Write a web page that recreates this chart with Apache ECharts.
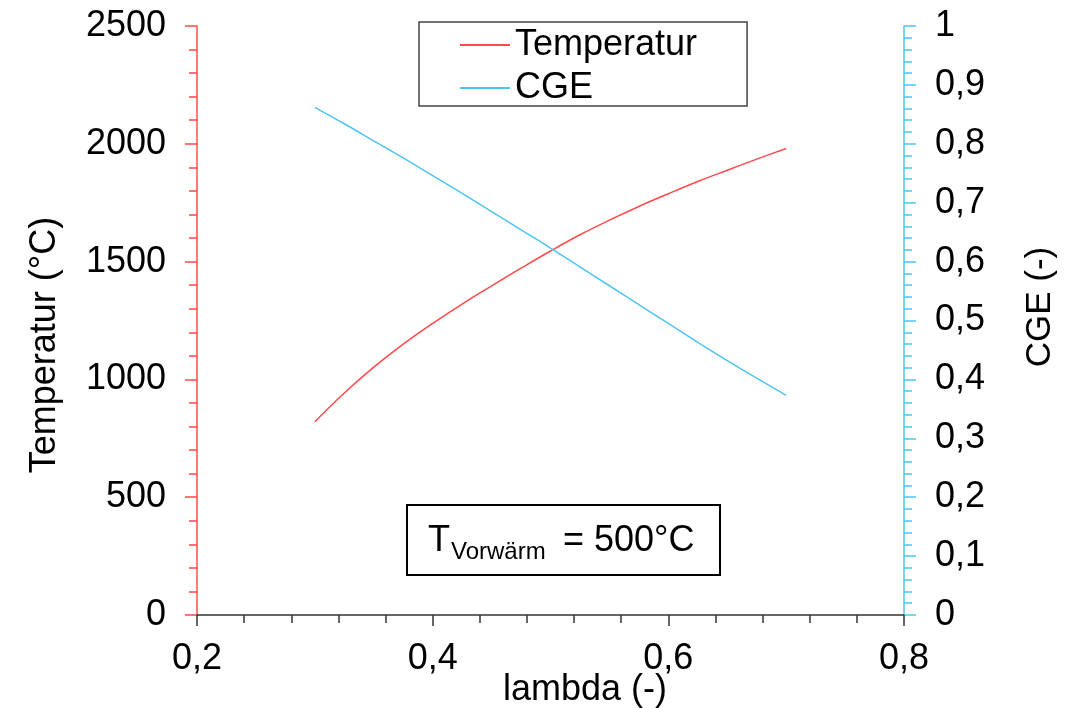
<!DOCTYPE html>
<html>
<head>
<meta charset="utf-8">
<script src="https://cdn.jsdelivr.net/npm/echarts@6/dist/echarts.min.js"></script>
<style>
html,body{margin:0;padding:0;background:#fff;}
#chart{width:1071px;height:708px;}
</style>
</head>
<body>
<div id="chart"></div>
<script>
// ---- data ----
const lambdaValues = [0.300,0.325,0.350,0.375,0.400,0.425,0.450,0.475,0.500,0.525,0.550,0.575,0.600,0.625,0.650,0.675,0.700];
const temperatur   = [820, 942, 1052, 1150, 1238, 1320, 1397, 1472, 1545, 1614, 1676, 1734, 1788, 1840, 1888, 1935, 1980];
const cge          = [0.862,0.834,0.805,0.776,0.746,0.716,0.685,0.654,0.623,0.591,0.559,0.527,0.495,0.463,0.432,0.402,0.373];
const seriesNames  = ['Temperatur', 'CGE'];
const xTitle = 'lambda (-)';
const yLeftTitle = 'Temperatur (°C)';
const yRightTitle = 'CGE (-)';

const FONT = 'Liberation Sans, Arial, sans-serif';
const RED = '#ff4a4a';
const BLUE = '#4cc6ee';
const fmt = v => String(Math.round(v * 10) / 10).replace('.', ',');

const chart = echarts.init(document.getElementById('chart'), null, {renderer: 'canvas'});
chart.setOption({
  animation: false,
  backgroundColor: '#ffffff',
  grid: {left: 197, right: 167, top: 26, bottom: 93},
  legend: {
    orient: 'vertical',
    left: 419, top: 22,
    padding: [5, 50, 0, 41],
    icon: 'rect',
    itemWidth: 50, itemHeight: 2, itemGap: 7,
    borderColor: '#444', borderWidth: 1.5,
    textStyle: {fontFamily: FONT, fontSize: 36, color: '#000'},
    data: seriesNames
  },
  xAxis: {
    type: 'value', min: 0.2, max: 0.8, interval: 0.2,
    axisLine: {lineStyle: {color: '#333', width: 1.5}},
    axisTick: {show: true, length: 11, lineStyle: {color: '#333', width: 1.5}},
    minorTick: {show: true, splitNumber: 5, length: 8, lineStyle: {color: '#333', width: 1.5}},
    splitLine: {show: false},
    axisLabel: {fontFamily: FONT, fontSize: 36, color: '#000', margin: 26, formatter: fmt}
  },
  yAxis: [{
    type: 'value', min: 0, max: 2500, interval: 500, position: 'left',
    axisLine: {show: true, lineStyle: {color: RED, width: 1.5}},
    axisTick: {show: true, length: 12, lineStyle: {color: RED, width: 1.5}},
    minorTick: {show: true, splitNumber: 5, length: 8, lineStyle: {color: RED, width: 1.5}},
    splitLine: {show: false},
    axisLabel: {fontFamily: FONT, fontSize: 36, color: '#000', margin: 31, formatter: v => String(v)}
  }, {
    type: 'value', min: 0, max: 1, interval: 0.1, position: 'right',
    axisLine: {show: true, lineStyle: {color: BLUE, width: 1.5}},
    axisTick: {show: true, length: 12, lineStyle: {color: BLUE, width: 1.5}},
    minorTick: {show: true, splitNumber: 5, length: 8, lineStyle: {color: BLUE, width: 1.5}},
    splitLine: {show: false},
    axisLabel: {fontFamily: FONT, fontSize: 36, color: '#000', margin: 31, formatter: fmt}
  }],
  series: [{
    name: seriesNames[0], type: 'line', yAxisIndex: 0, smooth: 0.4,
    symbol: 'none', color: RED, lineStyle: {color: RED, width: 1.5},
    data: lambdaValues.map((x, i) => [x, temperatur[i]])
  }, {
    name: seriesNames[1], type: 'line', yAxisIndex: 1, smooth: 0.4,
    symbol: 'none', color: BLUE, lineStyle: {color: BLUE, width: 1.5},
    data: lambdaValues.map((x, i) => [x, cge[i]])
  }],
  graphic: [
    {type: 'text', x: 45, y: 345, rotation: Math.PI / 2,
     style: {text: yLeftTitle, font: '36px ' + FONT, fill: '#000', align: 'center', verticalAlign: 'middle'}},
    {type: 'text', x: 1040, y: 307, rotation: Math.PI / 2,
     style: {text: yRightTitle, font: '35px ' + FONT, fill: '#000', align: 'center', verticalAlign: 'middle'}},
    {type: 'text', x: 585, y: 690,
     style: {text: xTitle, font: '36px ' + FONT, fill: '#000', align: 'center', verticalAlign: 'middle'}},
    {type: 'rect', shape: {x: 407, y: 505, width: 313, height: 70},
     style: {fill: '#fff', stroke: '#000', lineWidth: 2}},
    {type: 'text', x: 428, y: 559,
     style: {text: 'T', font: '36px ' + FONT, fill: '#000', align: 'left', verticalAlign: 'bottom'}},
    {type: 'text', x: 451, y: 564,
     style: {text: 'Vorwärm', font: '24px ' + FONT, fill: '#000', align: 'left', verticalAlign: 'bottom'}},
    {type: 'text', x: 553, y: 559,
     style: {text: ' = 500°C', font: '36px ' + FONT, fill: '#000', align: 'left', verticalAlign: 'bottom'}}
  ]
});
</script>
</body>
</html>
